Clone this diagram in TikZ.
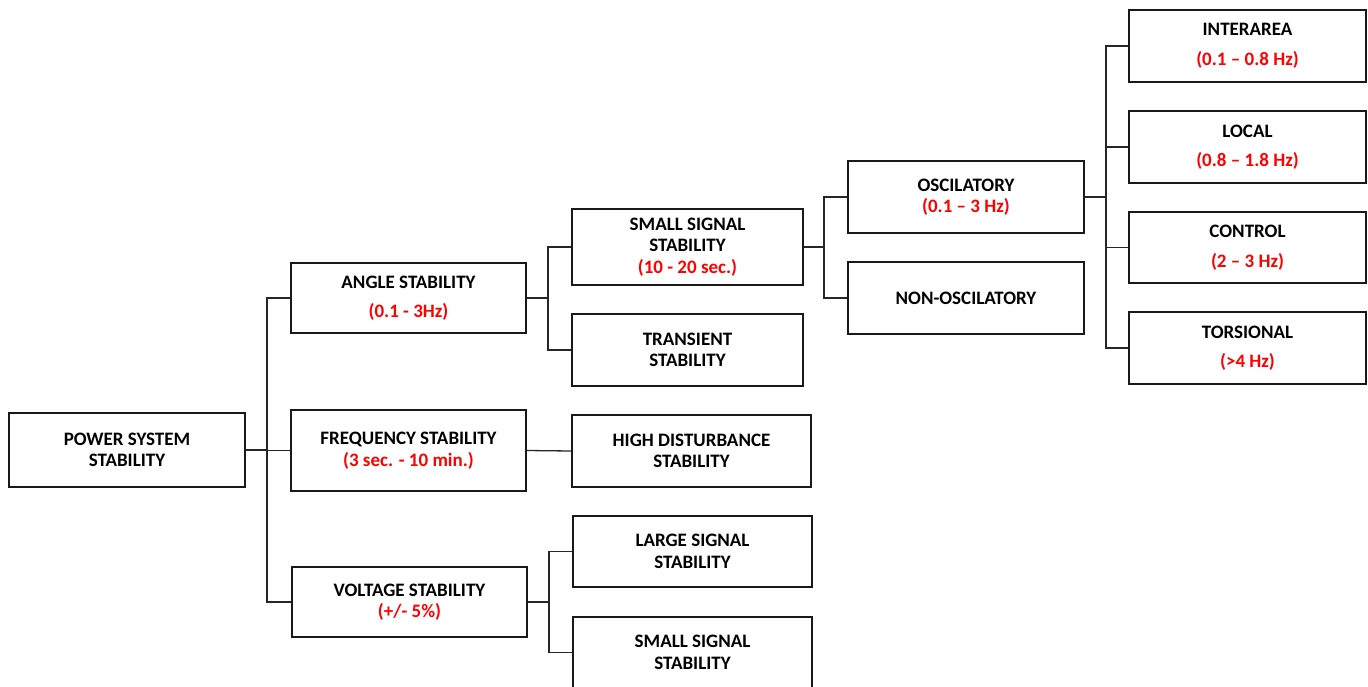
\documentclass[tikz,border=0pt]{standalone}
\usepackage{fontspec}
\setmainfont{Carlito}
\begin{document}
\begin{tikzpicture}[x=1pt,y=-1pt,
  box/.style={draw=black!90, line width=2pt, fill=white, align=center, inner sep=0pt,
    font=\fontsize{19}{21.5}\selectfont\bfseries},
  wbox/.style={box, minimum width=236pt, minimum height=72pt},
  link/.style={draw=black!85, line width=1.3pt}]
\useasboundingbox (0,0) rectangle (1368,686);
\clip (0,0) rectangle (1368,686);
\newcommand{\rd}[1]{\textcolor{red}{#1}}
% level 0
\node[box, minimum width=236pt, minimum height=74pt] (pss) at (127,450) {POWER SYSTEM\\STABILITY};
% level 1
\node[box, minimum width=235pt, minimum height=70pt] (angle) at (408.5,298) {ANGLE STABILITY\\[8pt]\rd{(0.1 - 3Hz)}};
\node[box, minimum width=235pt, minimum height=81pt] (freq) at (408.5,450.5) {FREQUENCY STABILITY\\\rd{(3 sec. - 10 min.)}};
\node[box, minimum width=235pt, minimum height=70pt] (volt) at (409.5,602) {VOLTAGE STABILITY\\\rd{(+/- 5\%)}};
% level 2
\node[box, minimum width=231pt, minimum height=76pt] (ss1) at (687.5,247) {SMALL SIGNAL\\STABILITY\\\rd{(10 - 20 sec.)}};
\node[box, minimum width=231pt, minimum height=72pt] (trans) at (687.5,350) {TRANSIENT\\STABILITY};
\node[box, minimum width=239pt, minimum height=72pt] (hds) at (691.5,451) {HIGH DISTURBANCE\\STABILITY};
\node[box, minimum width=239pt, minimum height=71pt] (large) at (692.5,551.5) {LARGE SIGNAL\\STABILITY};
\node[box, minimum width=239pt, minimum height=71pt] (ss2) at (692.5,652.5) {SMALL SIGNAL\\STABILITY};
% level 3
\node[wbox] (osc) at (966,197) {OSCILATORY\\\rd{(0.1 – 3 Hz)}};
\node[wbox] (nonosc) at (966,298) {NON-OSCILATORY};
% level 4
\node[box, minimum width=237pt, minimum height=72pt] (inter) at (1247.5,46) {INTERAREA\\[8pt]\rd{(0.1 – 0.8 Hz)}};
\node[box, minimum width=237pt, minimum height=72pt] (local) at (1247.5,147) {LOCAL\\[8pt]\rd{(0.8 – 1.8 Hz)}};
\node[box, minimum width=237pt, minimum height=71pt] (control) at (1247.5,247.5) {CONTROL\\[8pt]\rd{(2 – 3 Hz)}};
\node[box, minimum width=237pt, minimum height=72pt] (tors) at (1247.5,348) {TORSIONAL\\[8pt]\rd{(>4 Hz)}};
% connectors
\draw[link] (angle.west) -- ++(-23,0) |- (pss.east);
\draw[link] (freq.west) -- ++(-23,0) |- (pss.east);
\draw[link] (volt.west) -- ++(-24,0) |- (pss.east);
\draw[link] (ss1.west) -- ++(-23,0) |- (angle.east);
\draw[link] (trans.west) -- ++(-23,0) |- (angle.east);
\draw[link] (hds.west) -- (freq.east);
\draw[link] (large.west) -- ++(-23,0) |- (volt.east);
\draw[link] (ss2.west) -- ++(-23,0) |- (volt.east);
\draw[link] (osc.west) -- ++(-23,0) |- (ss1.east);
\draw[link] (nonosc.west) -- ++(-23,0) |- (ss1.east);
\draw[link] (inter.west) -- ++(-22,0) |- (osc.east);
\draw[link] (local.west) -- ++(-22,0) |- (osc.east);
\draw[link] (control.west) -- ++(-22,0) |- (osc.east);
\draw[link] (tors.west) -- ++(-22,0) |- (osc.east);
\end{tikzpicture}
\end{document}
